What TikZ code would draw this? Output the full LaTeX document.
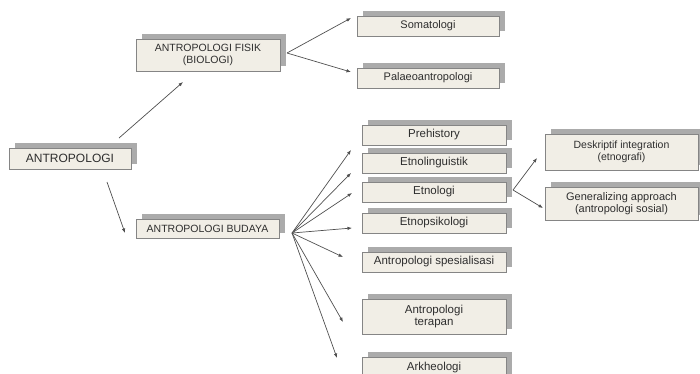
\documentclass[tikz,border=0pt]{standalone}
\usepackage{fontspec}
\setmainfont{Liberation Sans}
\usetikzlibrary{arrows.meta,shadows}
\definecolor{boxfill}{HTML}{F1EEE6}
\definecolor{boxline}{HTML}{858585}
\definecolor{shade}{HTML}{ABABAB}
\definecolor{arrline}{HTML}{505050}
\definecolor{txt}{HTML}{2E2E2E}
\definecolor{pinkedge}{HTML}{C9A9C3}
\tikzset{
  box/.style={draw=boxline, line width=0.7pt, fill=boxfill, text=txt, align=center,
    inner sep=1pt, font=\fontsize{11.5}{12.5}\selectfont,
    drop shadow={shadow xshift=6pt, shadow yshift=5pt, fill=shade, opacity=1},
    path picture={\draw[pinkedge, line width=1.2pt] (path picture bounding box.north west) -- (path picture bounding box.south west);}},
  capbox/.style={box, font=\fontsize{10.5}{12}\selectfont},
  arr/.style={draw=arrline, line width=0.7pt, -{Latex[length=4.5pt,width=3.5pt]}}
}
\begin{document}
\begin{tikzpicture}[x=1pt,y=-1pt]
\useasboundingbox (0,0) rectangle (700,373);
\clip (0,0) rectangle (700,373);
% boxes
\node[capbox, font=\fontsize{12}{13}\selectfont, minimum width=122pt, minimum height=21pt] (antro) at (70,158.5) {ANTROPOLOGI};
\node[capbox, minimum width=144pt, minimum height=32pt] (fisik) at (208,55) {ANTROPOLOGI FISIK\\(BIOLOGI)};
\node[capbox, minimum width=143pt, minimum height=19pt] (budaya) at (207.5,228.5) {ANTROPOLOGI BUDAYA};
\node[box, font=\fontsize{11}{12}\selectfont, minimum width=142pt, minimum height=20pt] (soma) at (428,26) {Somatologi};
\node[box, font=\fontsize{11}{12}\selectfont, minimum width=142pt, minimum height=20pt] (palaeo) at (428,78) {Palaeoantropologi};
\node[box, minimum width=144pt, minimum height=20pt] (pre) at (434,135) {Prehistory};
\node[box, minimum width=144pt, minimum height=20pt] (ling) at (434,163) {Etnolinguistik};
\node[box, minimum width=144pt, minimum height=20pt] (etno) at (434,192) {Etnologi};
\node[box, minimum width=144pt, minimum height=20pt] (psi) at (434,223) {Etnopsikologi};
\node[box, minimum width=144pt, minimum height=20pt] (spes) at (434,262) {Antropologi spesialisasi};
\node[box, minimum width=144pt, minimum height=35pt] (ter) at (434,316.5) {Antropologi\\terapan};
\node[box, minimum width=144pt, minimum height=35pt, text depth=17pt] (ark) at (434,374.5) {Arkheologi};
\node[box, font=\fontsize{10.5}{12}\selectfont, minimum width=153pt, minimum height=36pt] (desk) at (621.5,152) {Deskriptif integration\\(etnografi)};
\node[box, font=\fontsize{11}{12}\selectfont, minimum width=153pt, minimum height=33pt] (gen) at (621.5,203.5) {Generalizing approach\\(antropologi sosial)};
% hubs and tips
\coordinate (antroA) at (119,138);
\coordinate (antroB) at (107,182);
\coordinate (tFisik) at (183,82);
\coordinate (tBudaya) at (125,233);
\coordinate (hFisik) at (287,53);
\coordinate (tSoma) at (351,18);
\coordinate (tPalaeo) at (351,72);
\coordinate (hBud) at (292,233);
\coordinate (tPre) at (351,150);
\coordinate (tLing) at (351,173);
\coordinate (tEtno) at (352,193);
\coordinate (tPsi) at (352,228);
\coordinate (tSpes) at (343,257);
\coordinate (tTer) at (343,322);
\coordinate (tArk) at (337,358);
\coordinate (hEtno) at (513,190);
\coordinate (tDesk) at (537,158);
\coordinate (tGen) at (543,208);
% connectors
\draw[arr] (antroA) -- (tFisik);
\draw[arr] (antroB) -- (tBudaya);
\draw[arr] (hFisik) -- (tSoma);
\draw[arr] (hFisik) -- (tPalaeo);
\foreach \t in {tPre,tLing,tEtno,tPsi,tSpes,tTer,tArk}
  \draw[arr] (hBud) -- (\t);
\draw[arr] (hEtno) -- (tDesk);
\draw[arr] (hEtno) -- (tGen);
\end{tikzpicture}
\end{document}
